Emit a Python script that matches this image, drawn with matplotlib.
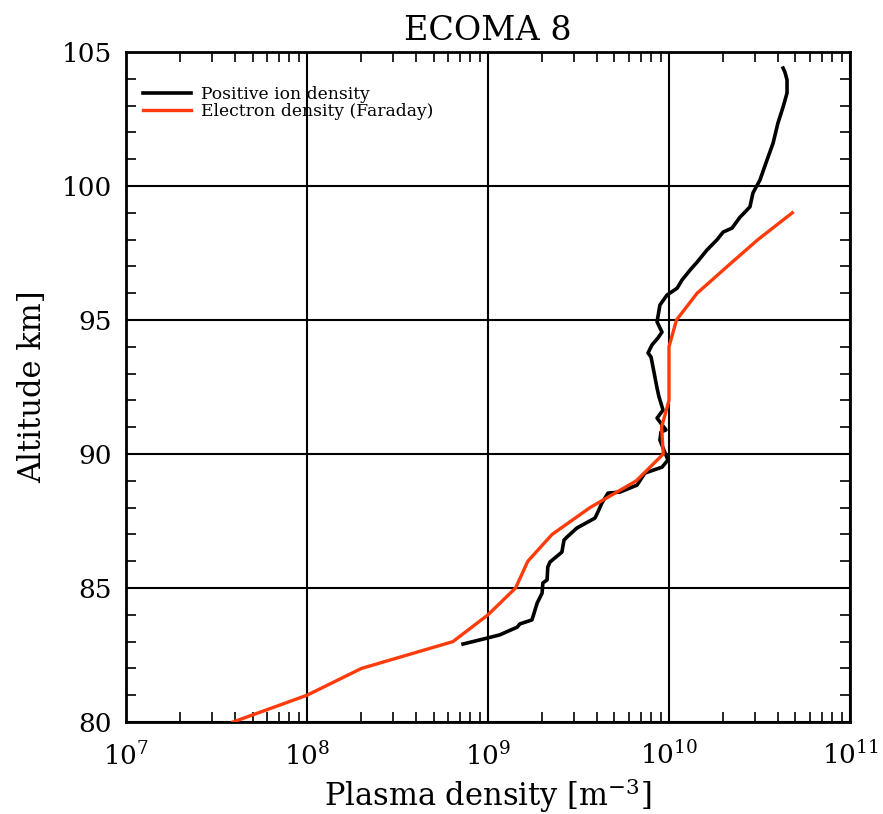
import matplotlib
matplotlib.use("Agg")
import matplotlib.pyplot as plt
import numpy as np
from matplotlib.ticker import LogLocator, MultipleLocator, NullFormatter

plt.rcParams['font.family'] = ['DejaVu Serif']
plt.rcParams['mathtext.fontset'] = 'dejavuserif'

# electron density (Faraday), integer km
alt_e = [80, 81, 82, 83, 84, 85, 86, 87, 88, 89, 90, 91, 92, 93, 94, 95, 96, 97, 98, 99]
ne_e = [3.9e7, 1.0e8, 2.0e8, 6.4e8, 1.0e9, 1.42e9, 1.66e9, 2.26e9, 3.66e9, 6.6e9,
        9.3e9, 9.1e9, 1.0e10, 1.0e10, 1.0e10, 1.1e10, 1.43e10, 2.1e10, 3.1e10, 4.8e10]

# positive ion density
alt_i = [82.91, 83.13, 83.25, 83.54, 83.66, 83.81, 84.44, 84.81, 85.19, 85.30,
         85.78, 85.97, 86.34, 86.79, 86.90, 87.24, 87.61, 87.84, 88.17, 88.54,
         88.58, 88.84, 89.29, 89.51, 89.78, 90.04, 90.52, 90.82, 90.90, 91.34,
         91.64, 92.13, 92.46, 93.06, 93.62, 93.77, 94.07, 94.33, 94.55, 94.93,
         95.56, 95.93, 96.19, 96.49, 96.87, 97.16, 97.61, 97.99, 98.28, 98.43,
         98.84, 99.22, 99.74, 100.22, 100.97, 101.60, 102.35, 102.95, 103.47, 103.96,
         104.25, 104.40]
ni_i = [7.28e8, 9.87e8, 1.16e9, 1.45e9, 1.50e9, 1.75e9, 1.87e9, 1.99e9, 2.01e9, 2.12e9,
        2.14e9, 2.20e9, 2.56e9, 2.63e9, 2.73e9, 3.10e9, 3.90e9, 4.05e9, 4.26e9, 4.60e9,
        5.36e9, 6.66e9, 7.36e9, 9.15e9, 9.87e9, 9.51e9, 8.91e9, 9.03e9, 9.62e9, 8.59e9,
        9.27e9, 8.81e9, 8.59e9, 8.26e9, 7.96e9, 7.66e9, 8.05e9, 8.69e9, 9.15e9, 8.59e9,
        8.91e9, 9.75e9, 1.11e10, 1.18e10, 1.31e10, 1.43e10, 1.62e10, 1.84e10, 1.99e10, 2.23e10,
        2.47e10, 2.80e10, 2.91e10, 3.18e10, 3.48e10, 3.76e10, 4.00e10, 4.27e10, 4.49e10, 4.49e10,
        4.37e10, 4.27e10]

fig = plt.figure(figsize=(8.83, 8.14), dpi=100)
ax = fig.add_axes([0.1427, 0.1130, 0.8199, 0.8231])

ax.plot(ni_i, alt_i, color='black', lw=2.6, label='Positive ion density', zorder=3)
ax.plot(ne_e, alt_e, color='#ff3b0a', lw=2.4, label='Electron density (Faraday)', zorder=4)

ax.set_xscale('log')
ax.set_xlim(1e7, 1e11)
ax.set_ylim(80, 105)
ax.set_yticks([80, 85, 90, 95, 100, 105])
ax.yaxis.set_minor_locator(MultipleLocator(1))
ax.xaxis.set_major_locator(LogLocator(base=10, numticks=10))
ax.xaxis.set_minor_locator(LogLocator(base=10, subs=np.arange(2, 10), numticks=20))
ax.xaxis.set_minor_formatter(NullFormatter())

ax.grid(True, which='major', color='black', lw=1.5)
ax.tick_params(which='both', direction='in', top=True, right=True, width=1.2)
ax.tick_params(which='major', length=0, labelsize=19)
ax.tick_params(axis='x', which='major', pad=14)
ax.tick_params(axis='y', which='major', pad=10)
ax.tick_params(which='minor', length=7)
for s in ax.spines.values():
    s.set_linewidth(2)

ax.set_title('ECOMA 8', fontsize=24, pad=9)
ax.set_xlabel('Plasma density [m$^{-3}$]', fontsize=22, labelpad=4)
ax.set_ylabel('Altitude km]', fontsize=22, labelpad=10)

ax.legend(loc='upper left', bbox_to_anchor=(0.0235, 0.950), fontsize=12.3,
          frameon=False, handlelength=2.8, handletextpad=0.6,
          borderaxespad=0, borderpad=0, labelspacing=0.0)

fig.savefig('out.png', dpi=100)
